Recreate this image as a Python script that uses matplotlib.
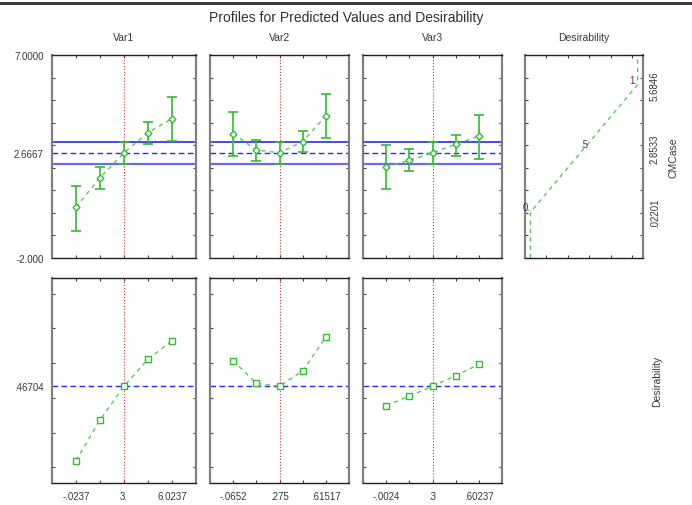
import matplotlib
matplotlib.use('Agg')
import matplotlib.pyplot as plt
from matplotlib.lines import Line2D

plt.rcParams['font.family'] = ['Liberation Sans', 'DejaVu Sans']

W, H = 692, 506

# factor levels (5 points per factor)
var1_x = [-0.0237, 1.4882, 3.0, 4.5118, 6.0237]
var2_x = [-0.0652, 0.1049, 0.275, 0.4451, 0.61517]
var3_x = [-0.0024, 0.1488, 0.3, 0.4512, 0.60237]

# predicted CMCase with confidence limits
var1_pred = [0.25, 1.56, 2.6667, 3.56, 4.18]
var1_lo = [-0.79, 1.05, 2.15, 3.04, 3.17]
var1_hi = [1.18, 2.02, 3.14, 4.01, 5.15]
var2_pred = [3.51, 2.79, 2.6667, 3.16, 4.30]
var2_lo = [2.52, 2.30, 2.15, 2.69, 3.32]
var2_hi = [4.49, 3.22, 3.14, 3.64, 5.27]
var3_pred = [2.03, 2.33, 2.6667, 3.04, 3.41]
var3_lo = [1.05, 1.84, 2.15, 2.51, 2.39]
var3_hi = [3.01, 2.82, 3.14, 3.47, 4.34]

# desirability profiles
var1_des = [0.039, 0.273, 0.46704, 0.622, 0.729]
var2_des = [0.614, 0.484, 0.46704, 0.555, 0.750]
var3_des = [0.356, 0.410, 0.46704, 0.528, 0.593]

pred_now = 2.6667
ci_low, ci_high = 2.15, 3.14
des_now = 0.46704

# desirability function for CMCase
curve_d = [0.0, 0.0, 0.5, 1.0, 1.0]
curve_y = [-2.0, 0.02201, 2.8533, 5.6846, 7.0]
anchor_d = [0.0, 0.5, 1.0]
anchor_y = [0.02201, 2.8533, 5.6846]
anchor_txt = ['0.', '.5', '1.']

titles = ['Var1', 'Var2', 'Var3']
xs = [var1_x, var2_x, var3_x]
preds = [var1_pred, var2_pred, var3_pred]
los = [var1_lo, var2_lo, var3_lo]
his = [var1_hi, var2_hi, var3_hi]
dess = [var1_des, var2_des, var3_des]
xlabels = [['-.0237', '', '3.', '', '6.0237'],
           ['-.0652', '', '.275', '', '.61517'],
           ['-.0024', '', '.3', '', '.60237']]

cols = [(52, 196), (210, 349), (363, 502)]
top_row = (56, 259)
bot_row = (279, 484)

GREEN = '#33bb33'
LGREEN = '#55cc55'
BLUE = '#2828f0'
RED = '#d83030'
TXT = '#383838'


def px_axes(fig, x0, x1, y0, y1):
    return fig.add_axes([x0 / W, 1 - y1 / H, (x1 - x0) / W, (y1 - y0) / H])


def frame(ax):
    for s in ['top', 'bottom']:
        ax.spines[s].set_color('#202020')
        ax.spines[s].set_linewidth(1.0)
    for s in ['left', 'right']:
        ax.spines[s].set_color('#808080')
        ax.spines[s].set_linewidth(1.6)
    ax.tick_params(which='both', direction='in', top=True, right=True,
                   length=2.5, width=0.8, color='#404040',
                   labelsize=7, labelcolor=TXT)


fig = plt.figure(figsize=(W / 100, H / 100), dpi=100)

for i in range(3):
    x = xs[i]
    step = (x[-1] - x[0]) / 4
    c0, c1 = cols[i]

    # top row: predicted values
    ax = px_axes(fig, c0, c1, *top_row)
    frame(ax)
    ax.set_xlim(x[0] - step, x[-1] + step)
    ax.set_ylim(-2, 7)
    ax.axhline(ci_high, color=BLUE, lw=1.2)
    ax.axhline(ci_low, color='#6a6aee', lw=1.6)
    ax.axhline(pred_now, color=BLUE, lw=1.0, ls=(0, (4, 2.5)))
    ax.axvline(x[2], color=RED, lw=0.8, ls=':')
    yerr = [[p - l for p, l in zip(preds[i], los[i])],
            [h - p for p, h in zip(preds[i], his[i])]]
    ax.errorbar(x, preds[i], yerr=yerr, fmt='none', ecolor=GREEN,
                elinewidth=1.2, capsize=3.5, capthick=1.2)
    ax.plot(x, preds[i], color=LGREEN, lw=1.0, ls=(0, (3, 3)),
            marker='D', ms=3.5, mfc='white', mec=GREEN, mew=1.0)
    ax.set_xticks(x)
    ax.set_xticklabels([])
    ax.set_yticks(range(-1, 7), minor=True)
    ax.set_yticks([-2, pred_now, 7])
    ax.tick_params(axis='y', which='major', length=0, pad=6)
    if i == 0:
        ax.set_yticklabels(['-2.000', '2.6667', '7.0000'])
    else:
        ax.set_yticklabels([])
    ax.set_title(titles[i], fontsize=7.5, color=TXT, pad=11)

    # bottom row: desirability
    ax = px_axes(fig, c0, c1, *bot_row)
    frame(ax)
    ax.set_xlim(x[0] - step, x[-1] + step)
    ax.set_ylim(-0.09, 1.09)
    ax.axhline(des_now, color=BLUE, lw=1.0, ls=(0, (4, 2.5)))
    ax.axvline(x[2], color=RED, lw=0.8, ls=':')
    ax.plot(x, dess[i], color=LGREEN, lw=1.0, ls=(0, (3, 3)),
            marker='s', ms=4.5, mfc='white', mec=GREEN, mew=1.0)
    ax.set_xticks(x)
    ax.set_xticklabels(xlabels[i])
    ax.tick_params(axis='x', which='major', pad=6)
    ax.set_yticks([0, 0.2, 0.4, 0.6, 0.8, 1.0], minor=True)
    ax.set_yticks([des_now])
    ax.tick_params(axis='y', which='major', length=0, pad=6)
    if i == 0:
        ax.set_yticklabels(['.46704'])
    else:
        ax.set_yticklabels([])

# desirability function panel
ax = px_axes(fig, 525, 643, *top_row)
frame(ax)
ax.set_xlim(-0.05, 1.05)
ax.set_ylim(-2, 7)
ax.plot(curve_d, curve_y, color=LGREEN, lw=1.0, ls=(0, (3, 3)))
for d, y, t in zip(anchor_d, anchor_y, anchor_txt):
    ax.text(d, y, t, fontsize=7, color='#702070',
            ha='right' if d != 0.5 else 'center', va='bottom')
ax.set_xticks([0.15, 0.35, 0.55, 0.75, 0.95])
ax.set_xticklabels([])
ax.set_yticks(range(-1, 7), minor=True)
ax.set_yticks(anchor_y)
ax.yaxis.tick_right()
ax.tick_params(axis='y', which='both', left=True, right=True)
ax.tick_params(axis='y', which='major', length=0, pad=5)
ax.set_yticklabels(['.02201', '2.8533', '5.6846'], rotation=90, va='center')
ax.yaxis.set_label_position('right')
ax.set_ylabel('CMCase', fontsize=7.5, color=TXT, rotation=90, labelpad=6)
ax.set_title('Desirability', fontsize=7.5, color=TXT, pad=11)

fig.text(657 / W, 1 - 381 / H, 'Desirability', fontsize=7.5, color=TXT,
         rotation=90, ha='center', va='center')

fig.suptitle('Profiles for Predicted Values and Desirability', fontsize=10,
             color='#303030', y=1 - 18 / H, va='center')

fig.add_artist(Line2D([0, 1], [1 - 4 / H, 1 - 4 / H], color='#303030', lw=2.0))

fig.savefig('out.png', dpi=100)
